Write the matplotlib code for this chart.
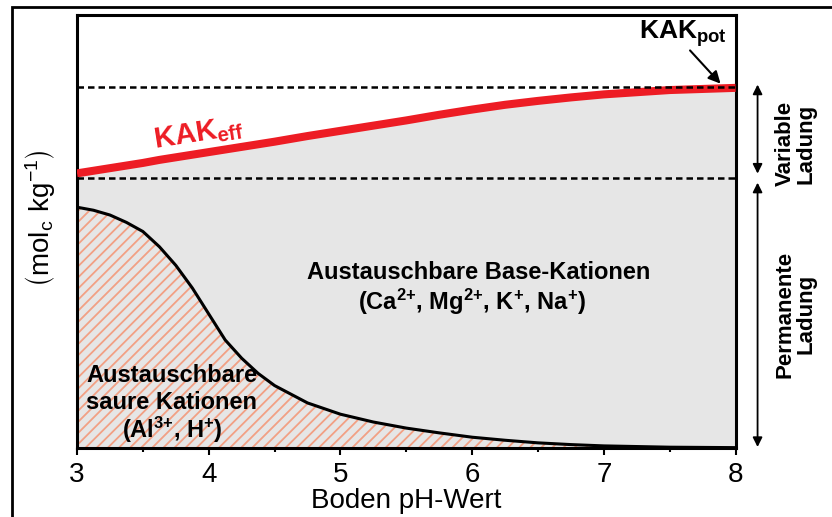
import matplotlib
matplotlib.use('Agg')
import matplotlib.pyplot as plt
from matplotlib.patches import Rectangle

plt.rcParams['font.family'] = ['Liberation Sans', 'DejaVu Sans']
plt.rcParams['mathtext.default'] = 'regular'
plt.rcParams['hatch.color'] = '#f2a084'
plt.rcParams['hatch.linewidth'] = 1.3

# soil pH and exchange capacity (relative units)
ph = [3.0, 3.125, 3.25, 3.375, 3.5, 3.625, 3.75, 3.875, 4.0, 4.125, 4.25,
      4.375, 4.5, 4.75, 5.0, 5.25, 5.5, 5.75, 6.0, 6.25, 6.5, 6.75, 7.0,
      7.5, 8.0]
acid_cations = [55.6, 54.9, 53.8, 52.1, 50.0, 46.5, 42.2, 37.0, 31.0, 25.0,
                20.8, 17.3, 14.5, 10.5, 7.9, 6.1, 4.7, 3.6, 2.6, 1.9, 1.3,
                0.9, 0.6, 0.3, 0.2]
kak_eff = [63.4, 64.0, 64.6, 65.2, 65.8, 66.5, 67.1, 67.7, 68.3, 68.9, 69.5,
           70.1, 70.7, 72.0, 73.2, 74.4, 75.6, 76.9, 78.1, 79.2, 80.1, 80.9,
           81.6, 82.6, 83.1]
kak_pot = 83.3
permanent = 62.3

RED = '#ed1c24'
GRAY = '#e6e6e6'

fig = plt.figure(figsize=(8.32, 5.17), dpi=100)
ax = fig.add_axes([0.0926, 0.1325, 0.7915, 0.8394])

# acid cations (hatched) and base cations (grey)
ax.fill_between(ph, 0, acid_cations, facecolor=GRAY, hatch='///',
                linewidth=0, zorder=1)
ax.fill_between(ph, acid_cations, kak_eff, facecolor=GRAY, linewidth=0,
                zorder=1)
ax.plot(ph, acid_cations, color='black', lw=2.2, zorder=3)
ax.plot(ph, kak_eff, color=RED, lw=5.8, solid_capstyle='butt', zorder=4)

for level in (kak_pot, permanent):
    ax.plot([3, 8], [level, level], color='black', lw=1.8,
            dashes=[2.6, 1.6], zorder=5)

ax.set_xlim(3, 8)
ax.set_ylim(0, 100)
ax.set_yticks([])
ax.set_xticks([3, 4, 5, 6, 7, 8])
ax.set_xticks([3.5, 4.5, 5.5, 6.5, 7.5], minor=True)
ax.tick_params(axis='x', which='major', direction='out', length=5,
               width=1.5, labelsize=20, pad=5)
ax.tick_params(axis='x', which='minor', direction='out', length=3,
               width=1.5)
for sp in ax.spines.values():
    sp.set_linewidth(2.2)
ax.set_xlabel('Boden pH-Wert', fontsize=20, labelpad=0)

fig.text(40 / 832, 1 - 218 / 517, r'$\left(mol_c\ kg^{-1}\right)$',
         rotation=90, fontsize=20, ha='center', va='center')

# labels inside the plot
ax.text(3.92, 72.6, 'KAK$_{eff}$', color=RED, fontsize=21,
        fontweight='bold', rotation=9, rotation_mode='anchor',
        ha='center', va='center')
ax.text(7.6, 95.6, 'KAK$_{pot}$', color='black', fontsize=19,
        fontweight='bold', ha='center', va='center')
ax.annotate('', xy=(7.9, 83.6), xytext=(7.64, 92.2),
            arrowprops=dict(arrowstyle='-|>', color='black', lw=1.5,
                            mutation_scale=18), zorder=6)

ax.text(6.05, 40.6, 'Austauschbare Base-Kationen', fontsize=17,
        fontweight='bold', ha='center', va='center')
ax.text(6.0, 33.7, '(Ca$^{2{+}}$, Mg$^{2{+}}$, K$^{{+}}$, Na$^{{+}}$)',
        fontsize=17, fontweight='bold', ha='center', va='center')
ax.text(3.72, 16.9, 'Austauschbare', fontsize=17, fontweight='bold',
        ha='center', va='center')
ax.text(3.72, 10.7, 'saure Kationen', fontsize=17, fontweight='bold',
        ha='center', va='center')
ax.text(3.72, 4.3, '(Al$^{3{+}}$, H$^{{+}}$)', fontsize=17,
        fontweight='bold', ha='center', va='center')

# charge ranges on the right
ax.annotate('', xy=(8.167, 84.5), xytext=(8.167, 62.7),
            arrowprops=dict(arrowstyle='<|-|>', color='black', lw=1.3,
                            mutation_scale=14), annotation_clip=False)
ax.annotate('', xy=(8.167, 61.9), xytext=(8.167, -0.3),
            arrowprops=dict(arrowstyle='<|-|>', color='black', lw=1.3,
                            mutation_scale=14), annotation_clip=False)
ax.text(8.456, 70.2, 'Variable\nLadung', rotation=90, fontsize=16,
        fontweight='bold', ha='center', va='center', linespacing=1.0,
        clip_on=False)
ax.text(8.456, 31.0, 'Permanente\nLadung', rotation=90, fontsize=16,
        fontweight='bold', ha='center', va='center', linespacing=1.0,
        clip_on=False)

# outer frame
fig.add_artist(Rectangle((12 / 832, -0.2), 1.2, 1.2 - 7 / 517,
                         transform=fig.transFigure, fill=False,
                         lw=2.0, edgecolor='black'))

fig.savefig('out.png', dpi=100)
